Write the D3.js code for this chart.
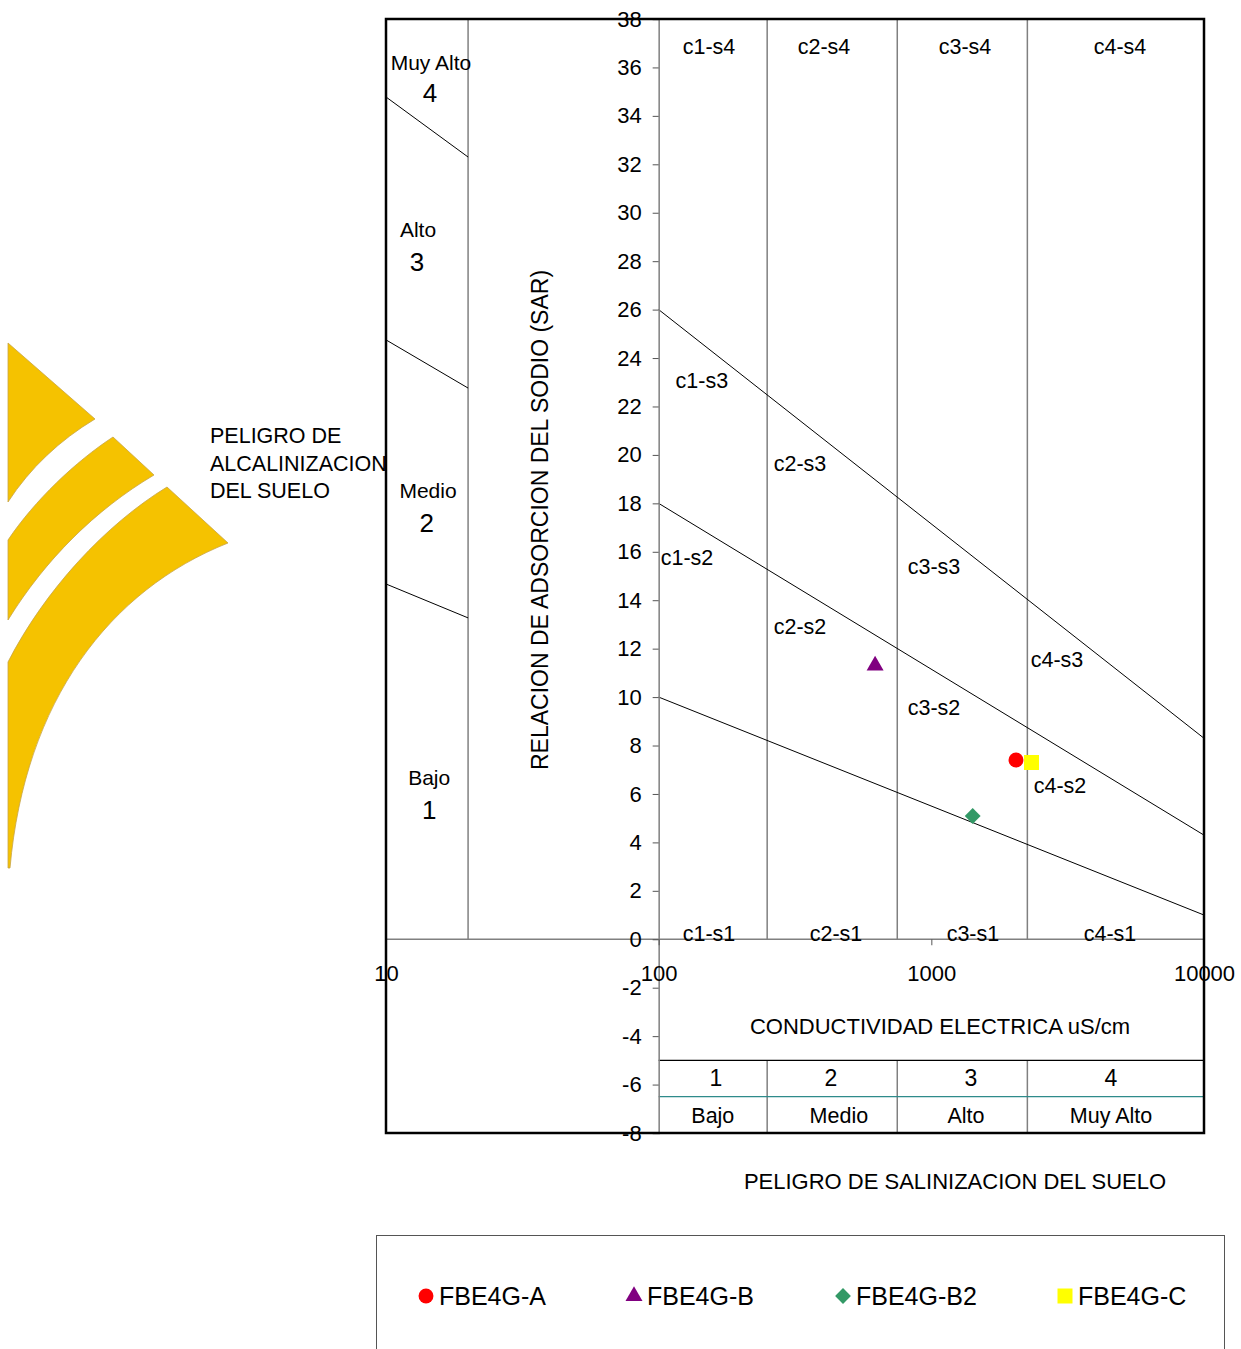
<!DOCTYPE html>
<html>
<head>
<meta charset="utf-8">
<script src="https://cdn.jsdelivr.net/npm/d3@7"></script>
<style>
  html, body { margin: 0; padding: 0; background: #fff; }
  svg { display: block; font-family: "Liberation Sans", Arial, sans-serif; }
</style>
</head>
<body>
<svg id="chart" width="1241" height="1349"></svg>
<script>
// ---------- data ----------
const series = ["FBE4G-A", "FBE4G-B", "FBE4G-B2", "FBE4G-C"];
const conductivity = [2044, 622, 1418, 2330];   // uS/cm
const sar = [7.40, 11.30, 5.09, 7.30];
const colors = ["#FF0000", "#800080", "#339966", "#FFFF00"];
const shapes = ["circle", "triangle", "diamond", "square"];

const yTicks = d3.range(-8, 39, 2);
const xTicks = [10, 100, 1000, 10000];

// class boundaries (conductivity)
const salinityBounds = [250, 750, 2250];
// sodium hazard boundary lines [EC1, SAR1, EC2, SAR2]
const sodiumLines = [
  [100, 26, 10000, 8.3],
  [100, 18, 10000, 4.3],
  [100, 10, 10000, 1.0]
];
// small indicator lines in left panel
const leftLines = [
  [10, 34.78, 20, 32.30],
  [10, 24.75, 20, 22.76],
  [10, 14.67, 20, 13.27]
];
// zone labels [text, EC, SAR]
const zoneLabels = [
  ["c1-s4", 153, 36.84], ["c2-s4", 404, 36.84], ["c3-s4", 1329, 36.84], ["c4-s4", 4919, 36.84],
  ["c1-s3", 144, 23.05], ["c2-s3", 330, 19.62], ["c3-s3", 1023, 15.37], ["c4-s3", 2890, 11.53],
  ["c1-s2", 127, 15.74], ["c2-s2", 330, 12.89], ["c3-s2", 1023, 9.55], ["c4-s2", 2964, 6.33],
  ["c1-s1", 153, 0.22], ["c2-s1", 447, 0.22], ["c3-s1", 1421, 0.22], ["c4-s1", 4522, 0.22]
];
// alkalinity hazard labels [text, EC, SAR, size]
const sodiumClassLabels = [
  ["Muy Alto", 14.62, 36.22, 21], ["4", 14.5, 34.94, 26],
  ["Alto", 13.1, 29.29, 21], ["3", 13.0, 27.97, 26],
  ["Medio", 14.26, 18.51, 21], ["2", 14.1, 17.19, 26],
  ["Bajo", 14.4, 6.70, 21], ["1", 14.4, 5.34, 26]
];
// salinity table labels
const salinityNumbers = [["1", 162], ["2", 428], ["3", 1398], ["4", 4560]];
const salinityNames = [["Bajo", 158], ["Medio", 458], ["Alto", 1340], ["Muy Alto", 4560]];

// ---------- scales ----------
const svg = d3.select("#chart");
const x = d3.scaleLog().domain([10, 10000]).range([386, 1204]);
const y = d3.scaleLinear().domain([-8, 38]).range([1133, 19]);

const gray = "#808080";
const fmt = d => String(d);

// ---------- logo ----------
const logo = svg.append("g").attr("fill", "#F5C200").attr("stroke", "#C8A446").attr("stroke-width", 0.8);
logo.append("path").attr("d", "M8,343 L95,419 C60,440 30,468 8,502 Z");
logo.append("path").attr("d", "M8,540 C35,500 75,462 113,437 L154,475 C95,510 45,560 8,620 Z");
logo.append("path").attr("d", "M8,662 C45,590 105,525 167,487 L228,543 C110,590 25,700 10,868 L8,868 Z");

svg.append("g").attr("font-size", 21.5).selectAll("text")
  .data(["PELIGRO DE", "ALCALINIZACION", "DEL SUELO"]).join("text")
  .attr("x", 210).attr("y", (d, i) => 443 + i * 27.5).text(d => d);

// ---------- grid / boundaries ----------
const g = svg.append("g");
g.append("line").attr("x1", x(20)).attr("x2", x(20)).attr("y1", y(38)).attr("y2", y(0))
  .attr("stroke", gray).attr("stroke-width", 1.5);
salinityBounds.forEach(v => {
  g.append("line").attr("x1", x(v)).attr("x2", x(v)).attr("y1", y(38)).attr("y2", y(0))
    .attr("stroke", gray).attr("stroke-width", 1.5);
  g.append("line").attr("x1", x(v)).attr("x2", x(v)).attr("y1", y(-5)).attr("y2", y(-8))
    .attr("stroke", gray).attr("stroke-width", 1.5);
});
g.append("line").attr("x1", x(10)).attr("x2", x(10000)).attr("y1", y(0)).attr("y2", y(0))
  .attr("stroke", gray).attr("stroke-width", 1.5);
g.append("line").attr("x1", x(100)).attr("x2", x(10000)).attr("y1", y(-5)).attr("y2", y(-5))
  .attr("stroke", "#000").attr("stroke-width", 1.3);
g.append("line").attr("x1", x(100)).attr("x2", x(10000)).attr("y1", y(-6.5)).attr("y2", y(-6.5))
  .attr("stroke", "#2E8B8B").attr("stroke-width", 1.3);
sodiumLines.concat(leftLines).forEach(l => {
  g.append("line").attr("x1", x(l[0])).attr("y1", y(l[1])).attr("x2", x(l[2])).attr("y2", y(l[3]))
    .attr("stroke", "#000").attr("stroke-width", 1);
});

// ---------- axes ----------
const yAxis = svg.append("g").attr("transform", `translate(${x(100)},0)`)
  .call(d3.axisLeft(y).tickValues(yTicks).tickSize(6).tickPadding(11).tickFormat(fmt));
yAxis.select(".domain").attr("stroke", gray).attr("stroke-width", 1.5);
yAxis.selectAll(".tick line").attr("stroke", "#555");
yAxis.selectAll("text").attr("font-size", 22).attr("font-family", "Liberation Sans, Arial, sans-serif").attr("fill", "#000");

const xAxis = svg.append("g").attr("transform", `translate(0,${y(0)})`)
  .call(d3.axisBottom(x).tickValues(xTicks).tickSize(6).tickPadding(20).tickFormat(fmt));
xAxis.select(".domain").remove();
xAxis.selectAll(".tick line").attr("stroke", "#555");
xAxis.selectAll("text").attr("font-size", 22).attr("font-family", "Liberation Sans, Arial, sans-serif").attr("fill", "#000");

// ---------- labels ----------
const lab = svg.append("g").attr("font-size", 21.5).attr("text-anchor", "middle").attr("dominant-baseline", "central");
lab.selectAll(".zone").data(zoneLabels).join("text").attr("class", "zone")
  .attr("x", d => x(d[1])).attr("y", d => y(d[2])).text(d => d[0]);
lab.selectAll(".scls").data(sodiumClassLabels).join("text").attr("class", "scls")
  .attr("x", d => x(d[1])).attr("y", d => y(d[2])).attr("font-size", d => d[3]).text(d => d[0]);
lab.selectAll(".snum").data(salinityNumbers).join("text").attr("class", "snum")
  .attr("x", d => x(d[1])).attr("y", y(-5.73)).attr("font-size", 23).text(d => d[0]);
lab.selectAll(".snam").data(salinityNames).join("text").attr("class", "snam")
  .attr("x", d => x(d[1])).attr("y", y(-7.30)).text(d => d[0]);

lab.append("text").attr("x", 940).attr("y", 1026).attr("font-size", 22).text("CONDUCTIVIDAD ELECTRICA uS/cm");
lab.append("text").attr("x", 955).attr("y", 1181).attr("font-size", 22).text("PELIGRO DE SALINIZACION DEL SUELO");
lab.append("text").attr("transform", "translate(540,520) rotate(-90)").attr("font-size", 23).text("RELACION DE ADSORCION DEL SODIO (SAR)");

// ---------- border ----------
svg.append("rect").attr("x", x(10)).attr("y", y(38)).attr("width", x(10000) - x(10)).attr("height", y(-8) - y(38))
  .attr("fill", "none").attr("stroke", "#000").attr("stroke-width", 2.5);

// ---------- points ----------
const symType = { circle: d3.symbolCircle, triangle: d3.symbolTriangle, diamond: d3.symbolSquare, square: d3.symbolSquare };
const symSize = { circle: 175, triangle: 125, diamond: 125, square: 225 };
function symPath(s) { return d3.symbol().type(symType[s]).size(symSize[s])(); }

svg.append("g").selectAll("path").data(series).join("path")
  .attr("d", (d, i) => symPath(shapes[i]))
  .attr("transform", (d, i) => `translate(${x(conductivity[i])},${y(sar[i])})` + (shapes[i] === "diamond" ? " rotate(45)" : ""))
  .attr("fill", (d, i) => colors[i]);

// ---------- legend ----------
const leg = svg.append("g");
leg.append("rect").attr("x", 376.5).attr("y", 1235.5).attr("width", 848).attr("height", 140)
  .attr("fill", "none").attr("stroke", "#555").attr("stroke-width", 1);
const legX = [426, 634, 843, 1065];
const items = leg.selectAll("g").data(series).join("g")
  .attr("transform", (d, i) => `translate(${legX[i]},1296)`);
items.append("path").attr("d", (d, i) => symPath(shapes[i]))
  .attr("transform", (d, i) => shapes[i] === "diamond" ? "rotate(45)" : null)
  .attr("fill", (d, i) => colors[i]);
items.append("text").attr("x", 13).attr("dominant-baseline", "central").attr("font-size", 25).text(d => d);
</script>
</body>
</html>
